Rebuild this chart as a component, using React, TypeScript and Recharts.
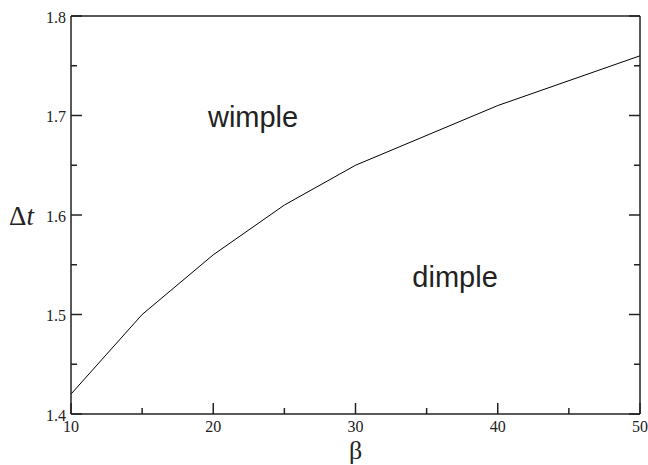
import React from "react";
import { LineChart, Line, XAxis, YAxis, ReferenceDot } from "recharts";

const betaValues = [10, 15, 20, 25, 30, 40, 50];
const dtValues = [1.42, 1.5, 1.56, 1.61, 1.65, 1.71, 1.76];

const betaTicks = [10, 15, 20, 25, 30, 35, 40, 45, 50];
const dtTicks = [1.4, 1.45, 1.5, 1.55, 1.6, 1.65, 1.7, 1.75, 1.8];

const regionLabels = [
  { text: "wimple", beta: 22.8, dt: 1.688 },
  { text: "dimple", beta: 37.0, dt: 1.528 },
];

const data = betaValues.map((b, i) => ({ beta: b, dt: dtValues[i] }));

const INK = "#222";
const MAJOR = 11;
const MINOR = 6;
const SERIF = "Liberation Serif, Tinos, Times New Roman, Times, DejaVu Serif, serif";
const SANS = "Liberation Sans, Arial, sans-serif";

const isMajorX = (v: number) => v % 10 === 0;
const isMajorY = (v: number) => Math.round(v * 100) % 10 === 0;

// ticks point inward on every side; only the major ones get numbers
const BottomTick = (props: any) => {
  const { x, y, payload } = props;
  const major = isMajorX(payload.value);
  return (
    <g>
      <line x1={x} x2={x} y1={y} y2={y - (major ? MAJOR : MINOR)} stroke={INK} strokeWidth={1.5} />
      {major && (
        <text x={x} y={y + 18} textAnchor="middle" fontFamily={SERIF} fontSize={16} fill={INK}>
          {payload.value}
        </text>
      )}
    </g>
  );
};

const TopTick = (props: any) => {
  const { x, y, payload } = props;
  const major = isMajorX(payload.value);
  return <line x1={x} x2={x} y1={y} y2={y + (major ? MAJOR : MINOR)} stroke={INK} strokeWidth={1.5} />;
};

const LeftTick = (props: any) => {
  const { x, y, payload } = props;
  const major = isMajorY(payload.value);
  return (
    <g>
      <line x1={x} x2={x + (major ? MAJOR : MINOR)} y1={y} y2={y} stroke={INK} strokeWidth={1.5} />
      {major && (
        <text x={x - 5} y={y + 6.5} textAnchor="end" fontFamily={SERIF} fontSize={16} fill={INK}>
          {payload.value.toFixed(1)}
        </text>
      )}
    </g>
  );
};

const RightTick = (props: any) => {
  const { x, y, payload } = props;
  const major = isMajorY(payload.value);
  return <line x1={x} x2={x - (major ? MAJOR : MINOR)} y1={y} y2={y} stroke={INK} strokeWidth={1.5} />;
};

const BetaLabel = (props: any) => {
  const { viewBox } = props;
  return (
    <text x={viewBox.x + viewBox.width / 2} y={viewBox.y + 45} textAnchor="middle" fontFamily={SERIF} fontSize={26} fill={INK}>
      β
    </text>
  );
};

const DtLabel = (props: any) => {
  const { viewBox } = props;
  const cy = viewBox.y + viewBox.height / 2;
  return (
    <text x={9} y={cy + 10} fontFamily={SERIF} fontSize={27} fill={INK}>
      Δ<tspan fontStyle="italic">t</tspan>
    </text>
  );
};

const RegionText = (text: string) => (props: any) => (
  <text x={props.cx} y={props.cy} textAnchor="middle" fontFamily={SANS} fontSize={29} fill={INK}>
    {text}
  </text>
);

export default function App() {
  return (
    <div style={{ position: "absolute", left: 0, top: 0 }}>
      <LineChart width={648} height={465} data={data} margin={{ top: 0, right: 0, bottom: 0, left: 0 }}>
        <XAxis
          dataKey="beta"
          type="number"
          domain={[10, 50]}
          ticks={betaTicks}
          interval={0}
          height={51}
          tickSize={0}
          tickMargin={0}
          tickLine={false}
          axisLine={{ stroke: INK, strokeWidth: 1.5 }}
          tick={<BottomTick />}
          label={<BetaLabel />}
        />
        <XAxis
          xAxisId="top"
          orientation="top"
          type="number"
          domain={[10, 50]}
          allowDataOverflow
          ticks={betaTicks}
          interval={0}
          height={16}
          tickSize={0}
          tickMargin={0}
          tickLine={false}
          axisLine={{ stroke: INK, strokeWidth: 1.5 }}
          tick={<TopTick />}
        />
        <YAxis
          type="number"
          domain={[1.4, 1.8]}
          ticks={dtTicks}
          interval={0}
          width={71}
          tickSize={0}
          tickMargin={0}
          tickLine={false}
          axisLine={{ stroke: INK, strokeWidth: 1.5 }}
          tick={<LeftTick />}
          label={<DtLabel />}
        />
        <YAxis
          yAxisId="right"
          orientation="right"
          type="number"
          domain={[1.4, 1.8]}
          allowDataOverflow
          ticks={dtTicks}
          interval={0}
          width={8}
          tickSize={0}
          tickMargin={0}
          tickLine={false}
          axisLine={{ stroke: INK, strokeWidth: 1.5 }}
          tick={<RightTick />}
        />
        <Line
          type="linear"
          dataKey="dt"
          stroke="#000"
          strokeWidth={1}
          dot={false}
          isAnimationActive={false}
        />
        {regionLabels.map((r) => (
          <ReferenceDot key={r.text} x={r.beta} y={r.dt} r={0} shape={RegionText(r.text)} />
        ))}
      </LineChart>
    </div>
  );
}
